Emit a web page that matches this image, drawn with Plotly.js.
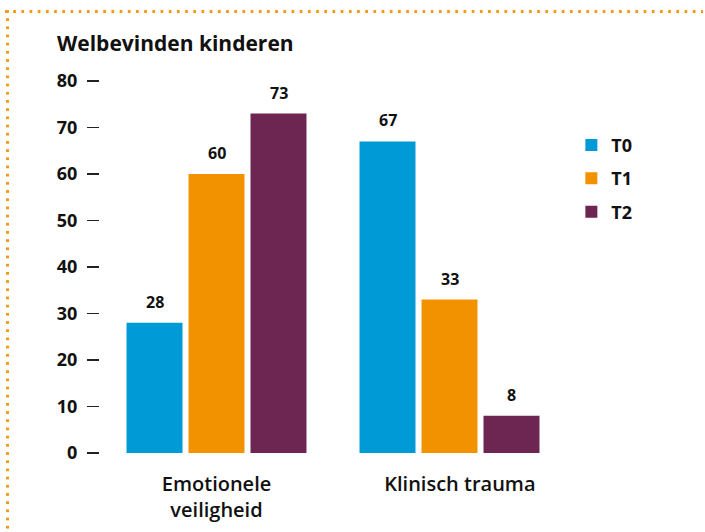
<!DOCTYPE html>
<html><head><meta charset="utf-8">
<script src="https://cdn.plot.ly/plotly-3.0.1.min.js"></script>
<style>
html,body{margin:0;padding:0;background:#fff;}
#wrap{position:relative;width:705px;height:532px;}
#chart{position:absolute;left:0;top:0;width:705px;height:532px;}
#topdots{position:absolute;left:5px;top:9.5px;width:698px;height:3px;
 background-image:linear-gradient(to right,#f39a1a 2.6px,transparent 2.6px);background-size:8.2px 3px;pointer-events:none;}
#leftdots{position:absolute;left:6px;top:9.5px;width:3px;height:523px;
 background-image:linear-gradient(to bottom,#f39a1a 2.6px,transparent 2.6px);background-size:3px 8.2px;pointer-events:none;}
</style></head>
<body><div id="wrap"><div id="chart"></div><div id="topdots"></div><div id="leftdots"></div></div>
<script>
const categories = ["Emotionele veiligheid", "Klinisch trauma"];
const categoryLabels = ["Emotionele<br>veiligheid", "\u00a0\u00a0\u00a0\u00a0Klinisch trauma"];
const seriesNames = ["T0", "T1", "T2"];
const T0 = [28, 67];
const T1 = [60, 33];
const T2 = [73, 8];
const yTicks = [0, 10, 20, 30, 40, 50, 60, 70, 80];
const colors = ["#009ad6", "#f39200", "#6d2651"];
const FONT = "Open Sans, Noto Sans, sans-serif";
const seriesValues = [T0, T1, T2];

const traces = seriesValues.map((vals, i) => ({
  type: "bar", name: seriesNames[i], x: categories, y: vals,
  marker: {color: colors[i]}, legendgroup: "g" + i, hoverinfo: "none"
}));

const slot = 62;
const annotations = [];
seriesValues.forEach((vals, i) => {
  vals.forEach((v, j) => {
    annotations.push({x: categories[j], y: v, xref: "x", yref: "y", text: String(v),
      showarrow: false, yanchor: "bottom", xshift: (i - 1) * slot, yshift: 8,
      font: {family: FONT, size: 16, color: "#111", weight: 700}});
  });
});

const layout = {
  width: 705, height: 532,
  margin: {l: 100, r: 139, t: 81, b: 79},
  paper_bgcolor: "#fff", plot_bgcolor: "#fff",
  barmode: "group", bargap: 0.2017, bargroupgap: 0.097,
  font: {family: FONT, color: "#111"},
  title: {text: "Welbevinden kinderen", x: 57 / 705, xanchor: "left", xref: "container",
    y: 1 - 44 / 532, yanchor: "middle", yref: "container",
    font: {family: FONT, size: 21, weight: 700, color: "#111"}},
  xaxis: {type: "category", showline: false, showgrid: false, zeroline: false, ticks: "",
    tickvals: categories, ticktext: categoryLabels,
    tickfont: {family: FONT, size: 20, weight: 600, color: "#111"}, ticklabelstandoff: 17},
  yaxis: {range: [0, 80], tickvals: yTicks, ticktext: yTicks.map(String), showline: false, showgrid: false,
    zeroline: false, ticks: "outside", ticklen: 12, tickwidth: 1.3, tickcolor: "#222",
    tickfont: {family: FONT, size: 18, weight: 700, color: "#111"}, ticklabelstandoff: 6},
  showlegend: true,
  legend: {x: 1.0115, xanchor: "left", y: 0.877, yanchor: "top", traceorder: "grouped", tracegroupgap: 7,
    font: {family: FONT, size: 18, weight: 700, color: "#111"}, bgcolor: "rgba(0,0,0,0)"},
  annotations: annotations
};

Plotly.newPlot("chart", traces, layout, {displayModeBar: false, staticPlot: true});
</script></body></html>
